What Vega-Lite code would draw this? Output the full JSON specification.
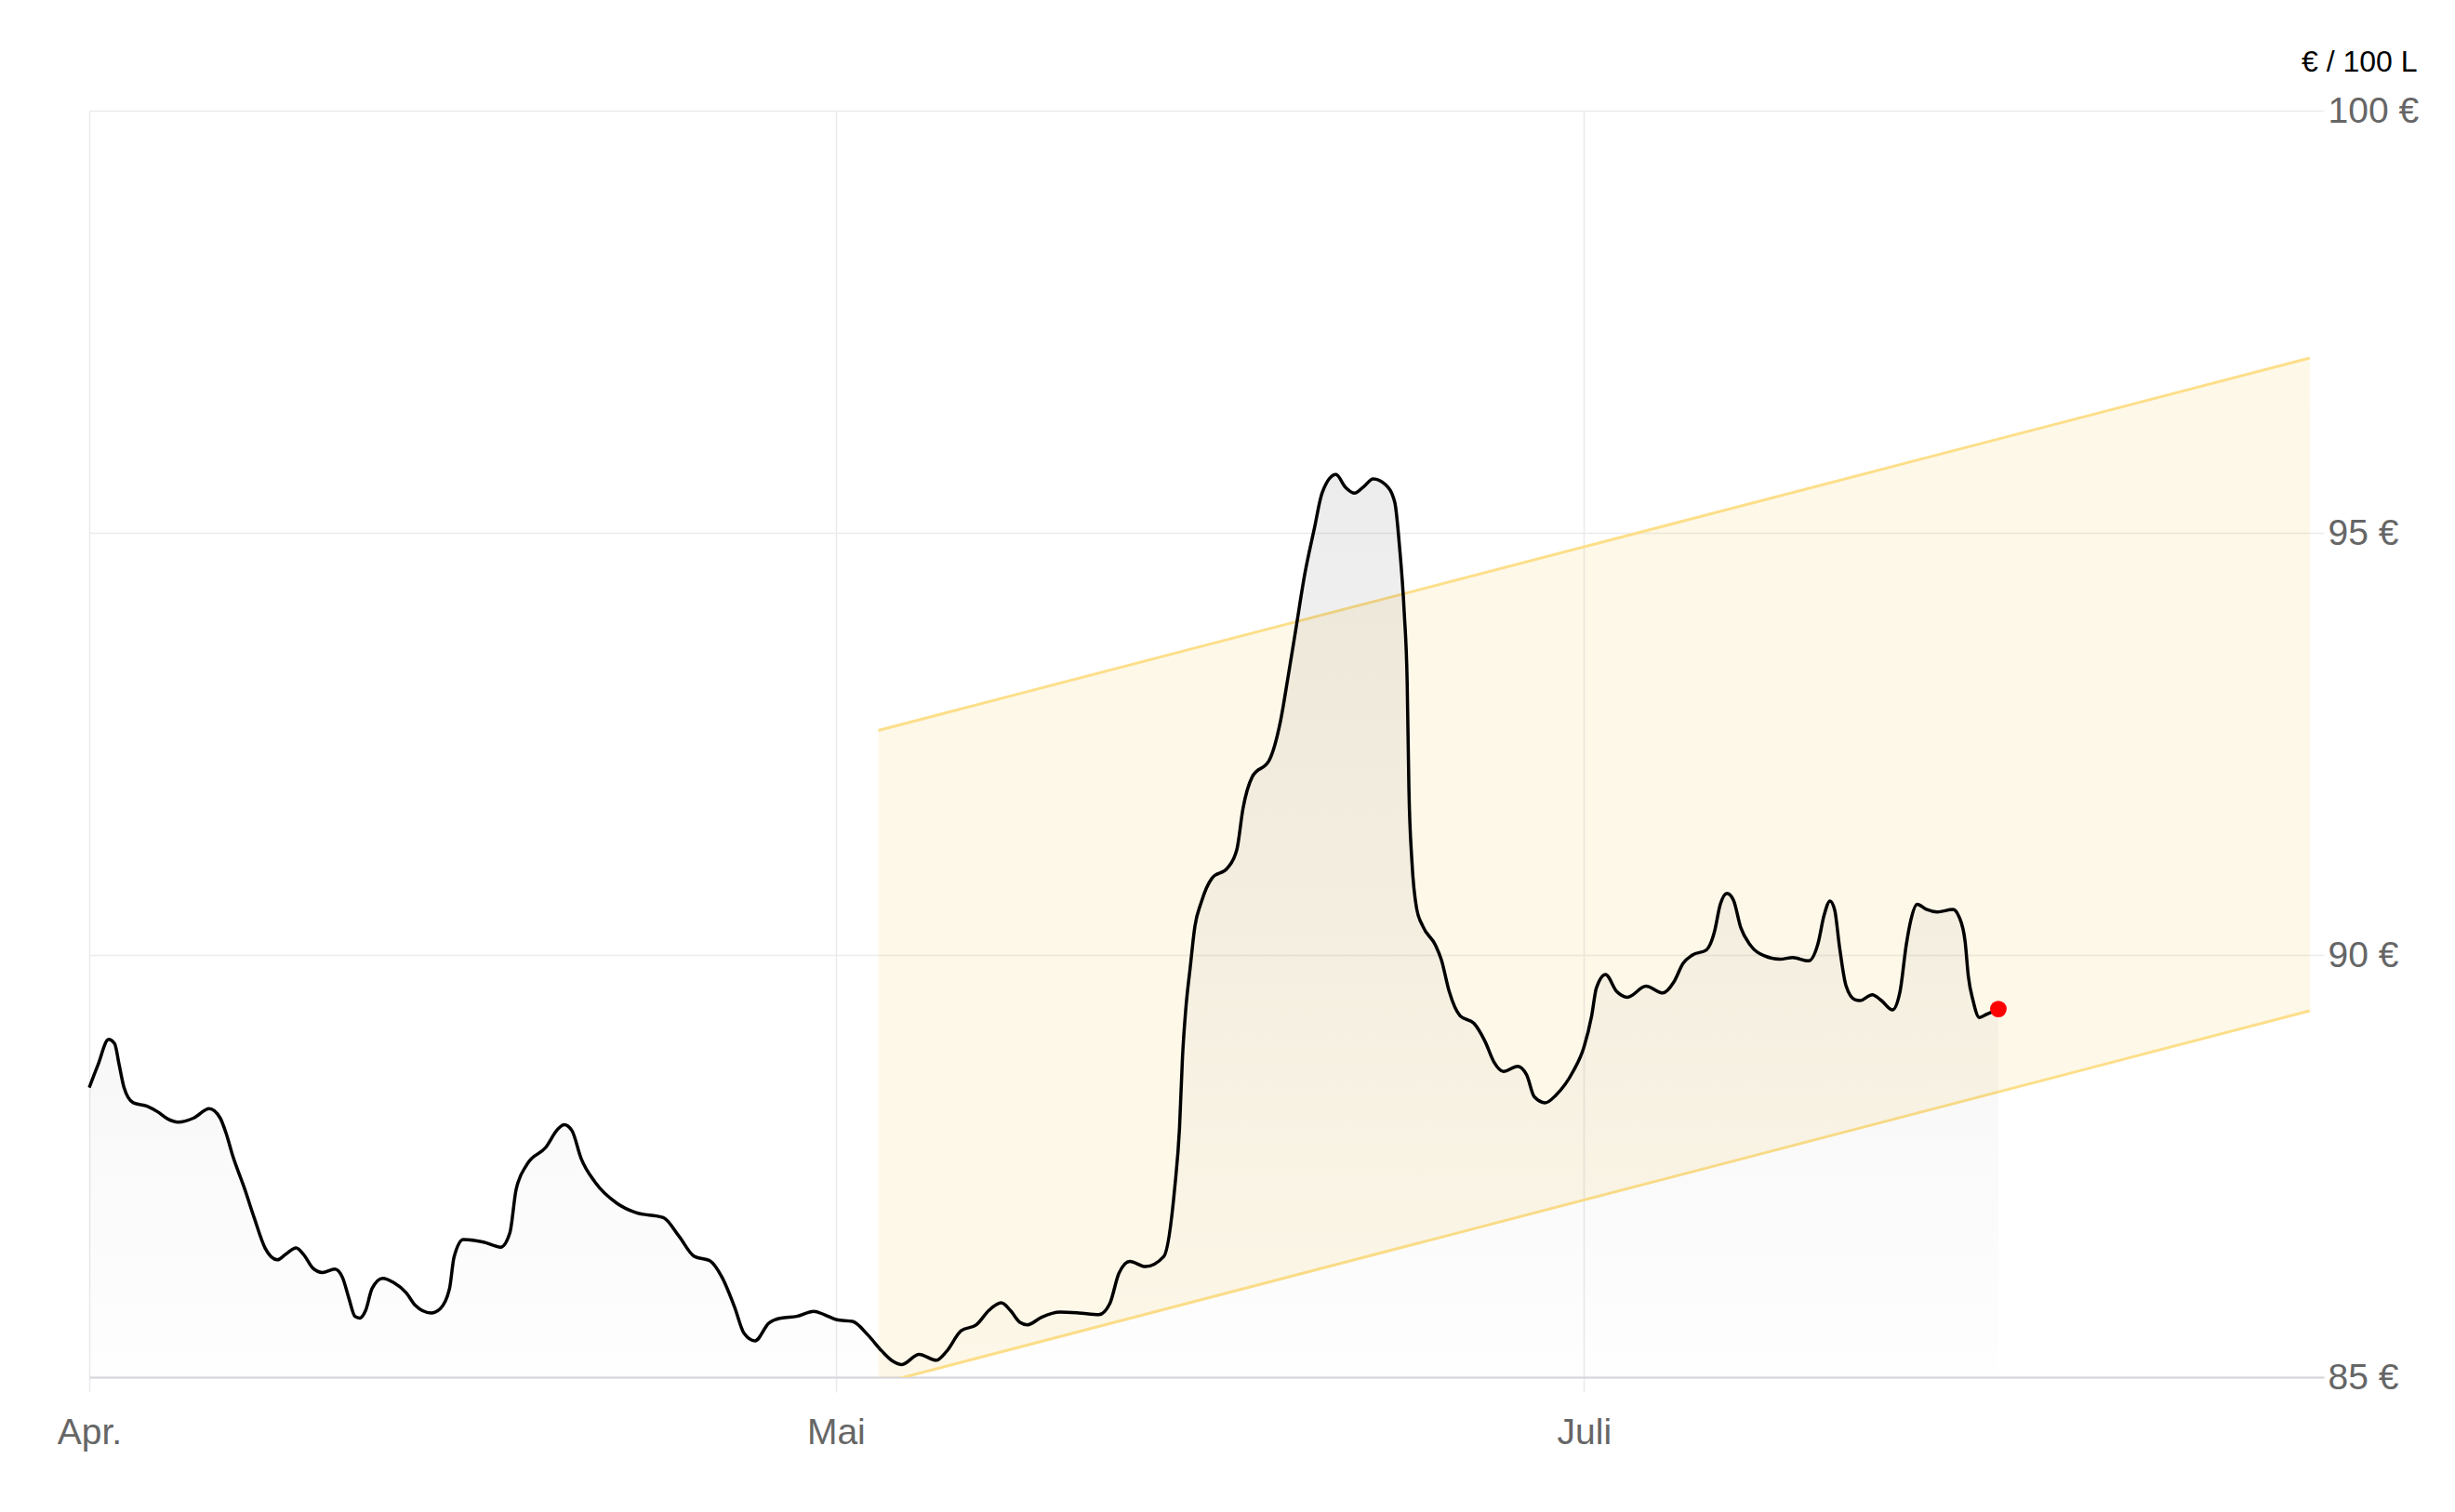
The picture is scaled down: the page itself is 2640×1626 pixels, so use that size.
{
  "$schema": "https://vega.github.io/schema/vega-lite/v6.json",
  "width": 2403,
  "height": 1362,
  "autosize": {"type": "none"},
  "padding": {"left": 96, "top": 119, "right": 141, "bottom": 145},
  "background": "#ffffff",
  "config": {"view": {"stroke": null}, "font": "Liberation Sans"},
  "datasets": {
    "price": [
      {"t": 0, "v": 88.43}, {"t": 0.34, "v": 88.69}, {"t": 0.78, "v": 89.0}, {"t": 1.02, "v": 88.95}, {"t": 1.21, "v": 88.69},
      {"t": 1.4, "v": 88.43}, {"t": 1.77, "v": 88.25}, {"t": 2.33, "v": 88.21}, {"t": 2.77, "v": 88.14}, {"t": 3.15, "v": 88.06},
      {"t": 3.58, "v": 88.02}, {"t": 4.21, "v": 88.07}, {"t": 4.83, "v": 88.18}, {"t": 5.27, "v": 88.07}, {"t": 5.52, "v": 87.88},
      {"t": 5.77, "v": 87.63}, {"t": 6.27, "v": 87.22}, {"t": 6.64, "v": 86.89}, {"t": 7.08, "v": 86.53}, {"t": 7.58, "v": 86.39},
      {"t": 7.89, "v": 86.45}, {"t": 8.33, "v": 86.53}, {"t": 8.64, "v": 86.45}, {"t": 9.01, "v": 86.29}, {"t": 9.39, "v": 86.24},
      {"t": 9.89, "v": 86.28}, {"t": 10.2, "v": 86.18}, {"t": 10.45, "v": 85.94}, {"t": 10.7, "v": 85.72}, {"t": 10.89, "v": 85.7},
      {"t": 11.13, "v": 85.79}, {"t": 11.39, "v": 86.05}, {"t": 11.82, "v": 86.17}, {"t": 12.26, "v": 86.12}, {"t": 12.76, "v": 86.0},
      {"t": 13.13, "v": 85.85}, {"t": 13.76, "v": 85.76}, {"t": 14.13, "v": 85.81}, {"t": 14.51, "v": 86.05}, {"t": 14.69, "v": 86.42},
      {"t": 15.07, "v": 86.63}, {"t": 15.51, "v": 86.62}, {"t": 15.88, "v": 86.6}, {"t": 16.57, "v": 86.54}, {"t": 16.94, "v": 86.71},
      {"t": 17.19, "v": 87.22}, {"t": 17.63, "v": 87.52}, {"t": 18.38, "v": 87.72}, {"t": 18.88, "v": 87.94}, {"t": 19.13, "v": 87.99},
      {"t": 19.44, "v": 87.92}, {"t": 19.81, "v": 87.59}, {"t": 20.37, "v": 87.31}, {"t": 21.25, "v": 87.06}, {"t": 22.0, "v": 86.95},
      {"t": 23.12, "v": 86.89}, {"t": 23.75, "v": 86.67}, {"t": 24.37, "v": 86.43}, {"t": 24.99, "v": 86.38}, {"t": 25.49, "v": 86.18},
      {"t": 25.99, "v": 85.83}, {"t": 26.37, "v": 85.52}, {"t": 26.81, "v": 85.43}, {"t": 27.37, "v": 85.64}, {"t": 27.87, "v": 85.7},
      {"t": 28.49, "v": 85.72}, {"t": 29.18, "v": 85.78}, {"t": 29.61, "v": 85.74}, {"t": 30.11, "v": 85.68}, {"t": 30.74, "v": 85.66},
      {"t": 31.36, "v": 85.5}, {"t": 31.92, "v": 85.31}, {"t": 32.36, "v": 85.19}, {"t": 32.73, "v": 85.15}, {"t": 33.42, "v": 85.27},
      {"t": 34.11, "v": 85.2}, {"t": 34.54, "v": 85.31}, {"t": 35.11, "v": 85.55}, {"t": 35.73, "v": 85.62}, {"t": 36.23, "v": 85.79},
      {"t": 36.73, "v": 85.88}, {"t": 37.1, "v": 85.79}, {"t": 37.48, "v": 85.65}, {"t": 37.79, "v": 85.62}, {"t": 38.35, "v": 85.71},
      {"t": 39.1, "v": 85.77}, {"t": 39.85, "v": 85.76}, {"t": 40.66, "v": 85.74}, {"t": 41.1, "v": 85.87}, {"t": 41.47, "v": 86.23},
      {"t": 41.91, "v": 86.37}, {"t": 42.54, "v": 86.31}, {"t": 43.28, "v": 86.43}, {"t": 43.72, "v": 87.25}, {"t": 43.91, "v": 87.95},
      {"t": 44.03, "v": 88.79}, {"t": 44.16, "v": 89.35}, {"t": 44.34, "v": 89.85}, {"t": 44.53, "v": 90.34}, {"t": 44.78, "v": 90.62},
      {"t": 45.22, "v": 90.91}, {"t": 45.84, "v": 91.03}, {"t": 46.22, "v": 91.25}, {"t": 46.47, "v": 91.74}, {"t": 46.84, "v": 92.11},
      {"t": 47.53, "v": 92.31}, {"t": 47.97, "v": 92.76}, {"t": 48.28, "v": 93.29}, {"t": 48.59, "v": 93.85}, {"t": 48.96, "v": 94.52},
      {"t": 49.34, "v": 95.05}, {"t": 49.65, "v": 95.47}, {"t": 50.21, "v": 95.69}, {"t": 50.59, "v": 95.54}, {"t": 50.96, "v": 95.47},
      {"t": 51.34, "v": 95.55}, {"t": 51.71, "v": 95.64}, {"t": 52.21, "v": 95.57}, {"t": 52.58, "v": 95.36}, {"t": 52.77, "v": 94.84},
      {"t": 52.96, "v": 94.06}, {"t": 53.08, "v": 93.22}, {"t": 53.15, "v": 91.96}, {"t": 53.27, "v": 91.11}, {"t": 53.46, "v": 90.55},
      {"t": 53.71, "v": 90.34}, {"t": 54.21, "v": 90.12}, {"t": 54.46, "v": 89.94}, {"t": 54.77, "v": 89.57}, {"t": 55.21, "v": 89.28},
      {"t": 55.77, "v": 89.19}, {"t": 56.21, "v": 88.98}, {"t": 56.58, "v": 88.73}, {"t": 56.96, "v": 88.62}, {"t": 57.52, "v": 88.68},
      {"t": 57.89, "v": 88.58}, {"t": 58.2, "v": 88.32}, {"t": 58.64, "v": 88.25}, {"t": 59.07, "v": 88.34}, {"t": 59.76, "v": 88.62},
      {"t": 60.2, "v": 88.91}, {"t": 60.51, "v": 89.28}, {"t": 60.7, "v": 89.61}, {"t": 61.07, "v": 89.77}, {"t": 61.51, "v": 89.57},
      {"t": 61.95, "v": 89.5}, {"t": 62.7, "v": 89.63}, {"t": 63.38, "v": 89.55}, {"t": 63.82, "v": 89.68}, {"t": 64.19, "v": 89.9},
      {"t": 64.57, "v": 90.0}, {"t": 65.13, "v": 90.06}, {"t": 65.45, "v": 90.27}, {"t": 65.69, "v": 90.6}, {"t": 65.96, "v": 90.73},
      {"t": 66.22, "v": 90.65}, {"t": 66.52, "v": 90.32}, {"t": 66.89, "v": 90.12}, {"t": 67.47, "v": 89.99}, {"t": 68.09, "v": 89.95},
      {"t": 68.61, "v": 89.97}, {"t": 69.24, "v": 89.93}, {"t": 69.63, "v": 90.14}, {"t": 69.87, "v": 90.47}, {"t": 70.11, "v": 90.64},
      {"t": 70.3, "v": 90.53}, {"t": 70.49, "v": 90.1}, {"t": 70.75, "v": 89.64}, {"t": 71.12, "v": 89.47}, {"t": 71.31, "v": 89.46},
      {"t": 71.81, "v": 89.53}, {"t": 72.18, "v": 89.46}, {"t": 72.62, "v": 89.35}, {"t": 72.93, "v": 89.57}, {"t": 73.18, "v": 90.12},
      {"t": 73.37, "v": 90.42}, {"t": 73.62, "v": 90.6}, {"t": 73.99, "v": 90.54}, {"t": 74.43, "v": 90.51}, {"t": 75.06, "v": 90.54},
      {"t": 75.31, "v": 90.45}, {"t": 75.55, "v": 90.16}, {"t": 75.68, "v": 89.75}, {"t": 75.87, "v": 89.46}, {"t": 76.12, "v": 89.26},
      {"t": 76.43, "v": 89.3}, {"t": 76.89, "v": 89.36}
    ],
    "band": [
      {"t": 31.78, "lo": 84.92, "hi": 92.66},
      {"t": 89.43, "lo": 89.34, "hi": 97.07}
    ],
    "last": [{"t": 76.89, "v": 89.36}]
  },
  "layer": [
    {
      "data": {"name": "band"},
      "mark": {"type": "area", "color": "#f7c948", "opacity": 0.12, "clip": true},
      "encoding": {
        "x": {"field": "t", "type": "quantitative", "scale": {"domain": [0, 90], "nice": false},
          "axis": {"values": [0, 30.07, 60.2], "labelExpr": "datum.value < 1 ? 'Apr.' : datum.value < 31 ? 'Mai' : 'Juli'",
            "title": null, "grid": true, "gridColor": "#e9e9ee", "gridWidth": 1.5, "tickColor": "#e9e9ee", "tickWidth": 1.5, "tickSize": 16,
            "domainColor": "#d4d4da", "domainWidth": 2, "labelFontSize": 39, "labelColor": "#666666", "labelPadding": 24, "labelFlush": false}},
        "y": {"field": "lo", "type": "quantitative", "scale": {"domain": [85, 100], "nice": false, "zero": false},
          "axis": {"orient": "right", "values": [85, 90, 95, 100], "labelExpr": "datum.value + ' €'", "grid": true, "gridColor": "#ececec", "gridWidth": 1.5,
            "domain": false, "ticks": false, "labelPadding": 4, "labelFontSize": 39, "labelColor": "#666666", "labelAlign": "left", "labelBaseline": "middle", "labelFlush": false,
            "title": "€ / 100 L", "titleAngle": 0, "titleAlign": "right", "titleBaseline": "alphabetic", "titleX": 100, "titleY": -43,
            "titleFontSize": 32, "titleColor": "#000000", "titleFontWeight": "normal"}},
        "y2": {"field": "hi"}
      }
    },
    {
      "data": {"name": "band"},
      "mark": {"type": "line", "color": "#fddf8a", "strokeWidth": 3, "clip": true},
      "encoding": {"x": {"field": "t", "type": "quantitative"}, "y": {"field": "hi", "type": "quantitative"}}
    },
    {
      "data": {"name": "band"},
      "mark": {"type": "line", "color": "#fddf8a", "strokeWidth": 3, "clip": true},
      "encoding": {"x": {"field": "t", "type": "quantitative"}, "y": {"field": "lo", "type": "quantitative"}}
    },
    {
      "data": {"name": "price"},
      "mark": {"type": "area", "interpolate": "monotone",
        "color": {"gradient": "linear", "x1": 0, "y1": 0, "x2": 0, "y2": 1,
          "stops": [{"offset": 0, "color": "rgba(0,0,0,0.075)"}, {"offset": 1, "color": "rgba(0,0,0,0.004)"}]}},
      "encoding": {"x": {"field": "t", "type": "quantitative"}, "y": {"field": "v", "type": "quantitative"}, "y2": {"datum": 85}}
    },
    {
      "data": {"name": "price"},
      "mark": {"type": "line", "interpolate": "monotone", "color": "#000000", "strokeWidth": 3.5},
      "encoding": {"x": {"field": "t", "type": "quantitative"}, "y": {"field": "v", "type": "quantitative"}}
    },
    {
      "data": {"name": "last"},
      "mark": {"type": "point", "filled": true, "color": "#ff0000", "opacity": 1, "size": 320},
      "encoding": {"x": {"field": "t", "type": "quantitative"}, "y": {"field": "v", "type": "quantitative"}}
    }
  ]
}
